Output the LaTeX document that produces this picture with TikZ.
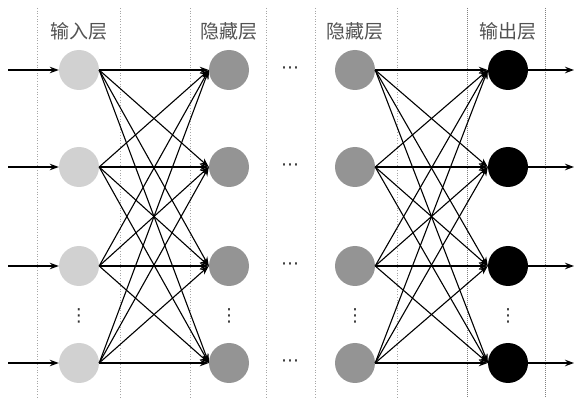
\documentclass[tikz,border=0pt]{standalone}
\usepackage{fontspec}
\newfontfamily\cjk{Noto Sans CJK SC}
\newfontfamily\dejavu{DejaVu Sans}
\usetikzlibrary{arrows.meta}
\begin{document}
\begin{tikzpicture}[x=1pt,y=-1pt,
  neuron/.style={circle,minimum size=40pt,inner sep=0pt,draw=none},
  inn/.style={neuron,fill=black!18},
  hid/.style={neuron,fill=black!42},
  outn/.style={neuron,fill=black},
  conn/.style={line width=1.1pt,-{Stealth[length=9pt,width=6.5pt]}},
  sep/.style={gray!70,dotted,line width=0.7pt},
  sepd/.style={gray,densely dotted,line width=1pt},
  lbl/.style={font=\cjk\fontsize{19}{19}\selectfont,text=black!68},
  dotsty/.style={font=\dejavu\fontsize{18}{18}\selectfont,inner sep=0pt,text=black!80},
]
\useasboundingbox (0,0) rectangle (574,401);
% separators
\foreach \x in {37,120,190,266,315,397}
  \draw[sep] (\x,8) -- (\x,397);
\foreach \x in {467,545}
  \draw[sepd] (\x,8) -- (\x,397);
% labels
\node[lbl] (l1) at (79,31) {输入层};
\node[lbl] (l2) at (229,31) {隐藏层};
\node[lbl] (l3) at (355,31) {隐藏层};
\node[lbl] (l4) at (508,31) {输出层};
% nodes
\foreach \i/\y in {1/70,2/167,3/266,4/363}{
  \node[inn] (a\i) at (79,\y) {};
  \node[hid] (b\i) at (229,\y) {};
  \node[hid] (c\i) at (355,\y) {};
  \node[outn] (d\i) at (508,\y) {};
  \coordinate (s\i) at (8,\y);
  \coordinate (e\i) at (574,\y);
  \node[dotsty] (h\i) at (290,\y) {⋯};
}
% vertical dots
\foreach \n/\x in {va/79,vb/229,vc/355,vd/508}
  \node[dotsty] (\n) at (\x,316) {⋮};
% connections
\foreach \i in {1,...,4}{
  \draw[conn] (s\i) -- (a\i.west);
  \draw[conn] (d\i.east) -- (e\i);
  \foreach \j in {1,...,4}{
    \draw[conn] (a\i.east) -- (b\j.west);
    \draw[conn] (c\i.east) -- (d\j.west);
  }
}
\end{tikzpicture}
\end{document}
